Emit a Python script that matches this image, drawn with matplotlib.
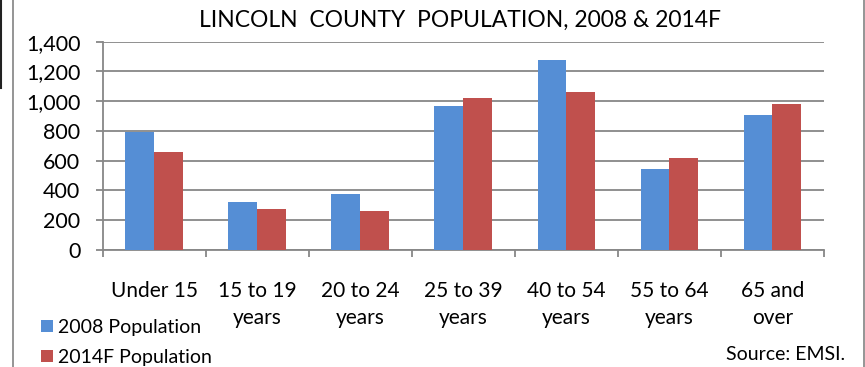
import matplotlib
matplotlib.use("Agg")
import matplotlib.pyplot as plt
from matplotlib.lines import Line2D
from matplotlib.ticker import FuncFormatter

plt.rcParams['font.family'] = ['Lato', 'DejaVu Sans']

categories = ["Under 15", "15 to 19\nyears", "20 to 24\nyears", "25 to 39\nyears",
              "40 to 54\nyears", "55 to 64\nyears", "65 and\nover"]
pop_2008 = [790, 325, 377, 969, 1279, 543, 904]
pop_2014f = [660, 274, 260, 1021, 1061, 619, 982]
series_labels = ["2008 Population", "2014F Population"]
title = "LINCOLN  COUNTY  POPULATION, 2008 & 2014F"
source = "Source: EMSI."

W, H = 865, 367
fig = plt.figure(figsize=(W / 100, H / 100), dpi=100)
ax = fig.add_axes([102.7 / W, 1 - 250 / H, (824 - 102.7) / W, (250 - 41.7) / H])

blue = "#558ED5"
red = "#C0504D"
grid = "#878787"
bw = 0.28
x = list(range(len(categories)))
b1 = ax.bar([i - bw / 2 for i in x], pop_2008, width=bw, color=blue, label=series_labels[0], zorder=3)
b2 = ax.bar([i + bw / 2 for i in x], pop_2014f, width=bw, color=red, label=series_labels[1], zorder=3)

ax.set_xlim(-0.5, len(categories) - 0.5)
ax.set_ylim(0, 1400)
ax.set_yticks(range(0, 1401, 200))
ax.yaxis.set_major_formatter(FuncFormatter(lambda v, p: f"{int(v):,}"))
ax.yaxis.grid(True, color=grid, linewidth=1.3, zorder=0)
ax.set_axisbelow(True)

ax.set_xticks([i - 0.5 for i in range(len(categories) + 1)])
ax.set_xticklabels([])
ax.set_xticks(x, categories, minor=True)
ax.tick_params(axis='x', which='major', direction='out', length=5, width=1.3, color=grid)
ax.tick_params(axis='x', which='minor', length=0, pad=22, labelsize=15)
ax.tick_params(axis='y', direction='out', length=5, width=1.3, color=grid, pad=11, labelsize=15.5)
for lbl in ax.get_xticklabels(minor=True):
    lbl.set_linespacing(1.45)
    lbl.set_verticalalignment('top')

for s in ['top', 'right']:
    ax.spines[s].set_visible(False)
for s in ['left', 'bottom']:
    ax.spines[s].set_color(grid)
    ax.spines[s].set_linewidth(1.3)

fig.text(460 / W, 1 - 20 / H, title, ha='center', va='center', fontsize=16.5)
fig.text(845 / W, 1 - 354 / H, source, ha='right', va='center', fontsize=14)

fig.legend(handles=[b1, b2], labels=series_labels, loc='upper left',
           bbox_to_anchor=(41 / W, 1 - 319 / H), frameon=False, fontsize=14,
           handlelength=0.6, handleheight=0.6, handletextpad=0.25, labelspacing=0.65,
           borderaxespad=0, borderpad=0)

fig.add_artist(Line2D([13 / W, 13 / W], [0, 1], transform=fig.transFigure, color="#8c8c8c", lw=1.3))
fig.add_artist(Line2D([864 / W, 864 / W], [0, 1], transform=fig.transFigure, color="#8c8c8c", lw=1.3))
fig.add_artist(Line2D([0.6 / W, 0.6 / W], [1 - 88 / H, 1], transform=fig.transFigure, color="#222222", lw=1.5))

fig.savefig("out.png", dpi=100)
